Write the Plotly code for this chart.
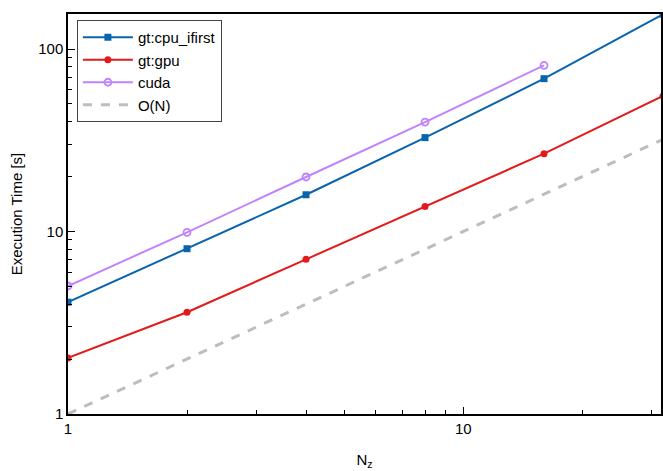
import plotly.graph_objects as go

nz = [1, 2, 4, 8, 16, 32]
cpu_ifirst = [4.1, 8.05, 15.9, 32.7, 68.8, 155]
gpu = [2.03, 3.61, 7.04, 13.7, 26.7, 55.3]
nz_cuda = [1, 2, 4, 8, 16]
cuda = [5.03, 9.9, 19.9, 39.8, 81.4]
on_ref = [1, 32]
on_vals = [1, 32]

fig = go.Figure()
fig.add_trace(go.Scatter(x=nz, y=cpu_ifirst, name="gt:cpu_ifirst", mode="lines+markers",
                         line=dict(color="#0a64ad", width=2),
                         marker=dict(symbol="square", size=7, color="#0a64ad")))
fig.add_trace(go.Scatter(x=nz, y=gpu, name="gt:gpu", mode="lines+markers",
                         line=dict(color="#e31a1c", width=2),
                         marker=dict(symbol="circle", size=7, color="#e31a1c")))
fig.add_trace(go.Scatter(x=nz_cuda, y=cuda, name="cuda", mode="lines+markers",
                         line=dict(color="#c183fb", width=2),
                         marker=dict(symbol="circle-open", size=7, color="#c183fb", line=dict(width=1.8))))
fig.add_trace(go.Scatter(x=on_ref, y=on_vals, name="O(N)", mode="lines",
                         line=dict(color="#bdbdbd", width=3, dash="dash")))

axis_common = dict(type="log", showgrid=False, zeroline=False, showline=True,
                   linecolor="black", linewidth=1.5, mirror=True, ticks="inside",
                   ticklen=7, tickwidth=1.2, tickcolor="black",
                   tickfont=dict(size=15, color="black"))

fig.update_xaxes(**axis_common, range=[0, 1.5], tickvals=[1, 10], ticktext=["1", "10"],
                 minor=dict(ticks="inside", ticklen=4, tickcolor="black",
                            tickvals=[2, 3, 4, 5, 6, 7, 8, 9, 20, 30]),
                 title=dict(text="N<sub>z</sub>", font=dict(size=15, color="black"), standoff=19))
fig.update_yaxes(**axis_common, range=[0, 2.192], tickvals=[1, 10, 100], ticktext=["1", "10", "100"],
                 minor=dict(ticks="inside", ticklen=4, tickcolor="black",
                            tickvals=[2, 3, 4, 5, 6, 7, 8, 9, 20, 30, 40, 50, 60, 70, 80, 90]),
                 title=dict(text="Execution Time [s]", font=dict(size=15, color="black"), standoff=12))

fig.update_layout(
    width=663, height=471,
    margin=dict(l=68, r=0, t=14, b=57),
    paper_bgcolor="white", plot_bgcolor="white",
    font=dict(family="Liberation Sans, Arial, sans-serif", size=15, color="black"),
    showlegend=True,
    legend=dict(x=0.015, y=0.985, xanchor="left", yanchor="top",
                bgcolor="white", bordercolor="#444", borderwidth=1,
                font=dict(size=15), itemwidth=50, tracegroupgap=0),
)

fig.write_html("out.html", config={"displayModeBar": False},
               post_script="document.body.style.margin='0px';document.body.style.overflow='hidden';")
